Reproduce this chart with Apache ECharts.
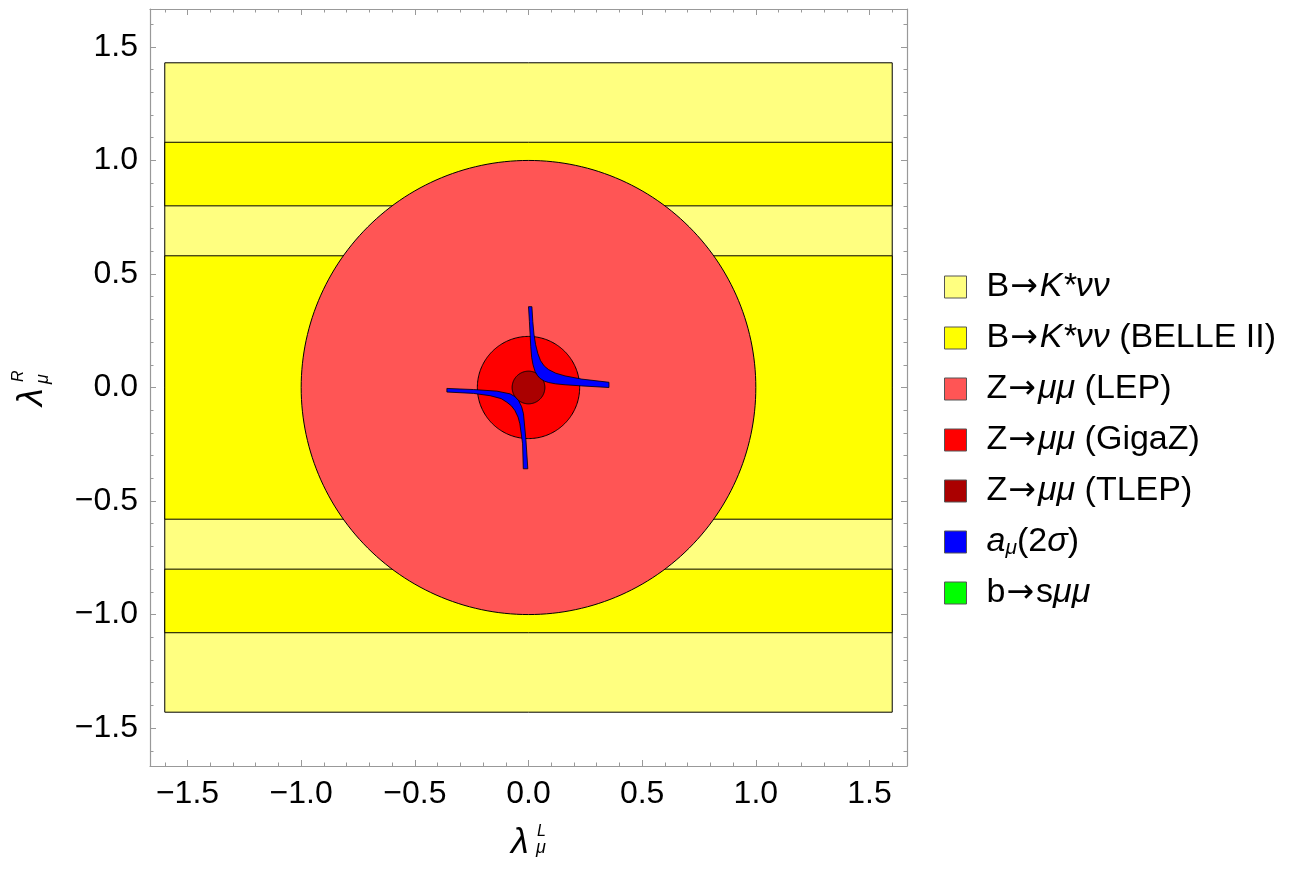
<!DOCTYPE html>
<html><head><meta charset="utf-8">
<script src="https://cdn.jsdelivr.net/npm/echarts@6/dist/echarts.min.js"></script>
<style>html,body{margin:0;padding:0;background:#fff}#c{width:1289px;height:870px}</style>
</head><body><div id="c"></div>
<script>
// ---------- data ----------
const majorTicks = [-1.5, -1.0, -0.5, 0, 0.5, 1.0, 1.5];
const minorTicks = [-1.6,-1.4,-1.3,-1.2,-1.1,-0.9,-0.8,-0.7,-0.6,-0.4,-0.3,-0.2,-0.1,
                    0.1,0.2,0.3,0.4,0.6,0.7,0.8,0.9,1.1,1.2,1.3,1.4,1.6];
const axisRangeX = [-1.665, 1.665];
const axisRangeY = [-1.667, 1.667];

const seriesNames = ['B→K*νν', 'B→K*νν (BELLE II)', 'Z→μμ (LEP)', 'Z→μμ (GigaZ)',
                     'Z→μμ (TLEP)', 'aμ(2σ)', 'b→sμμ'];
// rectangles: [xMin, xMax, yMin, yMax]
const kstarRegion = [[-1.6, 1.6, -1.43, 1.43]];
const belleRegions = [[-1.6, 1.6, 0.80, 1.08], [-1.6, 1.6, -0.58, 0.58], [-1.6, 1.6, -1.08, -0.80]];
// circles: [cx, cy, radius]
const lepCircle = [[0, 0, 1.0]];
const gigazCircle = [[0, 0, 0.225]];
const tlepCircle = [[0, 0, 0.072]];
// a_mu (2 sigma) bands: outer and inner edges
const amuUpperOuter = [[0.015,0.356],[0.019,0.29],[0.024,0.235],[0.031,0.19],[0.041,0.15],[0.053,0.118],
  [0.069,0.095],[0.088,0.079],[0.12,0.063],[0.161,0.051],[0.234,0.037],[0.354,0.023]];
const amuUpperInner = [[0.0,0.356],[0.004,0.29],[0.007,0.235],[0.010,0.18],[0.014,0.132],[0.020,0.10],
  [0.029,0.070],[0.040,0.052],[0.051,0.040],[0.070,0.028],[0.088,0.022],[0.12,0.016],[0.161,0.012],
  [0.234,0.007],[0.354,0.0]];
const amuLowerOuter = [[-0.359,-0.020],[-0.242,-0.026],[-0.169,-0.036],[-0.12,-0.049],[-0.095,-0.065],
  [-0.075,-0.081],[-0.060,-0.101],[-0.046,-0.130],[-0.038,-0.160],[-0.026,-0.248],[-0.023,-0.358]];
const amuLowerInner = [[-0.359,-0.004],[-0.242,-0.009],[-0.139,-0.016],[-0.081,-0.028],[-0.060,-0.040],
  [-0.044,-0.057],[-0.030,-0.085],[-0.022,-0.116],[-0.011,-0.234],[-0.003,-0.358]];
const bsmumuRegion = [];

const colors = ['#ffff80', '#ffff00', '#ff5555', '#ff0000', '#aa0000', '#0000ff', '#00ff00'];

// ---------- rendering helpers ----------
const amuPolygons = [amuUpperOuter.concat(amuUpperInner.slice().reverse()),
                     amuLowerOuter.concat(amuLowerInner.slice().reverse())];

function rectItem(params, api) {
  const p0 = api.coord([api.value(0), api.value(3)]);
  const p1 = api.coord([api.value(1), api.value(2)]);
  return {type: 'rect', shape: {x: p0[0], y: p0[1], width: p1[0] - p0[0], height: p1[1] - p0[1]},
    style: {fill: api.visual('color'), stroke: '#000', lineWidth: 1}};
}
function circleItem(params, api) {
  const cx = api.value(0), cy = api.value(1), r = api.value(2);
  const pts = [];
  for (let i = 0; i < 240; i++) {
    const a = i / 240 * 2 * Math.PI;
    pts.push(api.coord([cx + r * Math.cos(a), cy + r * Math.sin(a)]));
  }
  return {type: 'polygon', shape: {points: pts}, style: {fill: api.visual('color'), stroke: '#000', lineWidth: 1}};
}
function polyItem(params, api) {
  const poly = amuPolygons[api.value(2)];
  return {type: 'polygon', shape: {points: poly.map(p => api.coord(p))},
    style: {fill: api.visual('color'), stroke: '#000', lineWidth: 0.8}};
}

const font = '"Liberation Sans", Arial, sans-serif';
const frameColor = '#999';

function mkAxis(range, pos, values, len, showLine, showLabel) {
  return {type: 'value', position: pos, min: range[0], max: range[1],
    axisLine: {show: showLine, onZero: false, lineStyle: {color: frameColor, width: 1.2}},
    axisTick: {show: true, inside: true, length: len, customValues: values, lineStyle: {color: frameColor, width: 1}},
    axisLabel: {show: showLabel, customValues: majorTicks, margin: 12, color: '#000', fontSize: 32, fontFamily: font,
      formatter: v => (v < 0 ? '−' : '') + Math.abs(v).toFixed(1)},
    splitLine: {show: false}};
}

const LF = 34;
const rich = {
  i: {fontStyle: 'italic', fontSize: LF, fontFamily: font, color: '#000', lineHeight: LF},
  arr: {fontSize: 33, fontFamily: '"DejaVu Sans"', color: '#000', lineHeight: LF, padding: [0, 2, 0, 1]},
  sub: {fontStyle: 'italic', fontSize: 21, fontFamily: font, color: '#000', lineHeight: 15, verticalAlign: 'bottom'}
};
const legendFormat = {
  'B→K*νν': 'B{arr|→}{i|K*νν}',
  'B→K*νν (BELLE II)': 'B{arr|→}{i|K*νν} (BELLE II)',
  'Z→μμ (LEP)': 'Z{arr|→}{i|μμ} (LEP)',
  'Z→μμ (GigaZ)': 'Z{arr|→}{i|μμ} (GigaZ)',
  'Z→μμ (TLEP)': 'Z{arr|→}{i|μμ} (TLEP)',
  'aμ(2σ)': '{i|a}{sub|μ}(2{i|σ})',
  'b→sμμ': 'b{arr|→}s{i|μμ}'
};

function label(text, x, y, size, rot) {
  return {type: 'text', x: x, y: y, rotation: rot || 0,
    style: {text: text, fontSize: size, fontStyle: 'italic', fontFamily: font, fill: '#000',
      align: 'left', verticalAlign: 'middle'}};
}

const chart = echarts.init(document.getElementById('c'), null, {renderer: 'canvas'});
chart.setOption({
  backgroundColor: '#fff',
  animation: false,
  grid: {left: 150, right: 382, top: 9, bottom: 104, containLabel: false},
  xAxis: [mkAxis(axisRangeX, 'bottom', majorTicks, 6, true, true), mkAxis(axisRangeX, 'bottom', minorTicks, 3.5, false, false),
          mkAxis(axisRangeX, 'top', majorTicks, 6, true, false), mkAxis(axisRangeX, 'top', minorTicks, 3.5, false, false)],
  yAxis: [mkAxis(axisRangeY, 'left', majorTicks, 6, true, true), mkAxis(axisRangeY, 'left', minorTicks, 3.5, false, false),
          mkAxis(axisRangeY, 'right', majorTicks, 6, true, false), mkAxis(axisRangeY, 'right', minorTicks, 3.5, false, false)],
  legend: {
    orient: 'vertical', left: 944, top: 270, padding: 0, itemWidth: 22, itemHeight: 22, itemGap: 17,
    icon: 'rect', data: seriesNames,
    itemStyle: {borderColor: '#555', borderWidth: 1},
    formatter: n => legendFormat[n],
    textStyle: {fontSize: LF, fontFamily: font, color: '#000', lineHeight: LF, padding: [0, 0, 0, 15], rich: rich}
  },
  series: [
    {name: seriesNames[0], type: 'custom', renderItem: rectItem, itemStyle: {color: colors[0]}, data: kstarRegion, z: 1},
    {name: seriesNames[1], type: 'custom', renderItem: rectItem, itemStyle: {color: colors[1]}, data: belleRegions, z: 2},
    {name: seriesNames[2], type: 'custom', renderItem: circleItem, itemStyle: {color: colors[2]}, data: lepCircle, z: 3},
    {name: seriesNames[3], type: 'custom', renderItem: circleItem, itemStyle: {color: colors[3]}, data: gigazCircle, z: 4},
    {name: seriesNames[4], type: 'custom', renderItem: circleItem, itemStyle: {color: colors[4]}, data: tlepCircle, z: 5},
    {name: seriesNames[5], type: 'custom', renderItem: polyItem, itemStyle: {color: colors[5]},
      data: amuPolygons.map((p, i) => [p[0][0], p[0][1], i]), z: 6},
    {name: seriesNames[6], type: 'custom', renderItem: polyItem, itemStyle: {color: colors[6]}, data: bsmumuRegion, z: 7}
  ],
  graphic: [
    label('λ', 511, 843, 36),
    label('L', 537, 832, 16),
    label('μ', 536, 848, 18),
    label('λ', 32, 406, 36, Math.PI / 2),
    label('R', 19, 382, 16, Math.PI / 2),
    label('μ', 43, 384, 18, Math.PI / 2)
  ]
});
</script>
</body></html>
